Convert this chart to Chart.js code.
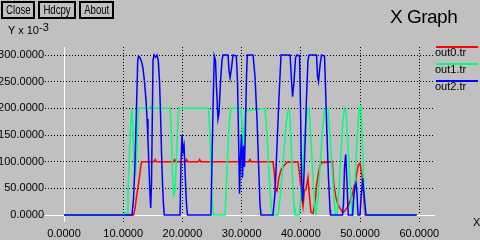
<!DOCTYPE html>
<html>
<head>
<meta charset="utf-8">
<script src="https://cdn.jsdelivr.net/npm/chart.js@4/dist/chart.umd.min.js"></script>
<style>
  html, body { margin: 0; padding: 0; }
  body {
    width: 480px; height: 240px; overflow: hidden; position: relative;
    background: #c0c0c0; color: #000;
    font-family: "Liberation Sans", Arial, sans-serif;
  }
  #graph { position: absolute; left: 0; top: 0; }
  .btn {
    position: absolute; top: 1px; height: 14px;
    border: 2px solid #000; text-align: center;
    font-size: 12px; line-height: 14px; white-space: nowrap;
  }
  .btn span { display: inline-block; transform: scaleX(0.8); }
  #title { position: absolute; left: 390px; top: 7px; font-size: 19px; line-height: 20px; letter-spacing: -0.5px; }
  #yunit { position: absolute; left: 8px; top: 24px; font-size: 11px; line-height: 12px; white-space: nowrap; }
  #yunit sup { font-size: 11px; vertical-align: baseline; position: relative; top: -3px; }
  #xunit { position: absolute; left: 473px; top: 216px; font-size: 11px; line-height: 12px; }
  .key-line { position: absolute; left: 436px; width: 42px; height: 2px; }
  .key-text { position: absolute; left: 435px; font-size: 11px; line-height: 13px; }
</style>
</head>
<body>
<canvas id="graph" width="480" height="240"></canvas>

<div class="btn" style="left:1px;width:30px"><span>Close</span></div>
<div class="btn" style="left:38px;width:34px"><span>Hdcpy</span></div>
<div class="btn" style="left:79px;width:31px"><span>About</span></div>
<div id="title">X Graph</div>
<div id="yunit">Y x 10<sup>-3</sup></div>
<div id="xunit">X</div>
<div id="key"></div>

<script>
// tick values
var xTicks = [0, 10, 20, 30, 40, 50, 60];
var yTicks = [0, 50, 100, 150, 200, 250, 300];

var seriesNames = ['out0.tr', 'out1.tr', 'out2.tr'];
var seriesColors = ['#ff0000', '#00ff7f', '#0000ff'];

// out0.tr (red)
var out0X = [0, 11.74, 11.99, 12.28, 12.55, 12.72, 13.0, 13.12, 15.2, 15.4, 15.6, 18.5, 18.7, 18.9, 20.5, 20.7, 20.9, 22.7, 22.9, 23.1, 29.5, 29.7, 29.9, 31.2, 31.4, 31.6, 35.3, 35.5, 35.7, 35.97, 36.3, 36.65, 37.2, 37.66, 39.5, 39.8, 40.1, 40.36, 40.6, 40.9, 41.2, 41.45, 41.7, 42.05, 42.4, 42.7, 43.06, 43.4, 45.3, 45.55, 45.9, 46.27, 47.11, 47.96, 48.58, 49.14, 49.7, 49.98, 50.27, 50.54, 50.83, 59.56];
var out0Y = [0, 0, 12, 37, 56, 69, 94, 100, 100, 104, 100, 100, 104, 100, 100, 104, 100, 100, 104, 100, 100, 104, 100, 100, 104, 100, 100, 80, 50, 45, 70, 85, 93, 99, 100, 75, 40, 16, 45, 50, 70, 35, 5, 3, 25, 60, 85, 98, 100, 60, 34, 19, 4, 16, 34, 60, 94, 97, 78, 47, 0, 0];

// out1.tr (green)
var out1X = [0, 10.13, 10.3, 10.64, 10.8, 10.98, 11.23, 11.48, 11.65, 11.9, 12.07, 12.24, 12.41, 12.58, 14.5, 14.7, 14.9, 17.9, 18.15, 18.3, 18.5, 18.74, 19.0, 19.25, 19.42, 24.4, 24.65, 24.82, 25.0, 25.25, 27.19, 27.44, 27.69, 27.95, 28.2, 29.9, 30.14, 30.3, 30.56, 33.94, 34.28, 34.6, 34.95, 35.2, 36.14, 36.47, 36.8, 37.15, 37.5, 37.83, 38.08, 38.33, 38.58, 38.84, 39.0, 39.7, 40.02, 40.36, 40.7, 41.03, 41.37, 41.71, 42.05, 42.39, 42.55, 42.89, 43.23, 43.57, 44.0, 44.58, 44.92, 45.26, 45.6, 45.85, 46.1, 46.44, 46.78, 47.12, 47.37, 47.62, 47.96, 48.3, 48.63, 48.8, 49.05, 49.3, 49.64, 49.9, 50.15, 50.4, 50.66, 50.9, 59.56];
var out1Y = [0, 0, 4, 4, 40, 97, 165, 199, 150, 90, 72, 110, 170, 200, 200, 204, 200, 200, 150, 80, 37, 45, 110, 180, 200, 200, 150, 90, 30, 0, 0, 60, 130, 180, 200, 200, 150, 130, 195, 200, 150, 80, 20, 0, 0, 30, 70, 120, 170, 196, 196, 140, 70, 15, 0, 0, 40, 100, 160, 198, 200, 140, 70, 10, 0, 30, 90, 150, 198, 200, 150, 90, 30, 0, 0, 50, 120, 180, 200, 195, 130, 60, 5, 0, 40, 100, 170, 200, 205, 130, 50, 0, 0];

// out2.tr (blue)
var out2X = [0, 11.48, 11.74, 11.99, 12.24, 12.45, 12.58, 12.83, 13.09, 13.34, 13.59, 13.85, 14.02, 14.18, 14.35, 14.52, 14.64, 14.78, 14.91, 15.03, 15.2, 15.45, 15.7, 15.92, 16.13, 16.3, 16.46, 16.63, 16.8, 16.94, 19.59, 19.76, 19.93, 20.1, 20.27, 20.52, 20.69, 20.85, 24.82, 24.99, 25.16, 25.38, 25.58, 25.75, 26.0, 26.17, 26.43, 26.68, 26.85, 27.7, 27.87, 28.04, 28.28, 28.54, 29.1, 29.3, 29.47, 29.64, 29.8, 29.97, 30.14, 30.31, 30.48, 30.65, 30.82, 30.95, 31.92, 32.25, 32.59, 32.84, 33.1, 33.27, 35.29, 35.63, 35.97, 36.3, 36.65, 38.18, 38.43, 38.6, 38.84, 39.1, 39.35, 39.77, 39.94, 40.1, 40.27, 40.44, 40.7, 40.95, 41.2, 41.37, 42.64, 42.81, 42.98, 43.23, 43.48, 43.99, 44.16, 44.41, 44.66, 44.92, 45.0, 47.03, 47.2, 47.37, 47.57, 47.79, 48.0, 48.72, 48.89, 49.14, 49.31, 49.48, 49.65, 49.98, 50.15, 50.44, 50.66, 51.0, 59.56];
var out2Y = [0, 0, 30, 100, 200, 290, 298, 295, 288, 275, 250, 215, 180, 140, 90, 40, 13, 60, 180, 290, 300, 296, 300, 290, 250, 190, 120, 60, 20, 0, 0, 100, 150, 120, 130, 60, 20, 0, 0, 100, 200, 298, 290, 240, 180, 190, 250, 290, 300, 300, 270, 257, 275, 300, 298, 250, 150, 40, 110, 150, 70, 130, 90, 170, 260, 300, 300, 260, 180, 100, 20, 0, 0, 40, 130, 220, 300, 300, 250, 222, 250, 295, 300, 298, 200, 80, 25, 50, 130, 220, 290, 300, 300, 260, 250, 280, 300, 298, 240, 150, 70, 10, 0, 0, 22, 90, 114, 60, 0, 0, 30, 55, 60, 40, 0, 0, 30, 69, 40, 0, 0];

function toPoints(xs, ys) {
  return xs.map(function (x, i) { return { x: x, y: ys[i] }; });
}

var allX = [out0X, out1X, out2X];
var allY = [out0Y, out1Y, out2Y];

// Build the key on the right
var key = document.getElementById('key');
for (var i = 0; i < seriesNames.length; i++) {
  var keyTop = 46 + i * 17;
  var line = document.createElement('div');
  line.className = 'key-line';
  line.style.top = keyTop + 'px';
  line.style.background = seriesColors[i];
  key.appendChild(line);
  var txt = document.createElement('div');
  txt.className = 'key-text';
  txt.style.top = keyTop + 'px';
  txt.textContent = seriesNames[i];
  key.appendChild(txt);
}

// white solid lines at x=0 and y=0
var zeroLines = {
  id: 'zeroLines',
  beforeDatasetsDraw: function (chart) {
    var ctx = chart.ctx, a = chart.chartArea;
    var px = Math.round(chart.scales.x.getPixelForValue(0)) + 0.5;
    var py = Math.round(chart.scales.y.getPixelForValue(0)) + 0.5;
    ctx.save();
    ctx.strokeStyle = '#ffffff';
    ctx.lineWidth = 1;
    ctx.beginPath();
    ctx.moveTo(a.left, py); ctx.lineTo(a.right, py);
    ctx.moveTo(px, a.top); ctx.lineTo(px, a.bottom);
    ctx.stroke();
    ctx.restore();
  }
};

Chart.defaults.font.family = '"Liberation Sans", Arial, sans-serif';

var datasets = seriesNames.map(function (name, i) {
  return {
    label: name,
    data: toPoints(allX[i], allY[i]),
    borderColor: seriesColors[i],
    borderWidth: 1.5,
    pointRadius: 0,
    tension: 0,
    fill: false,
    order: 3 - i
  };
});

var tickFont = { size: 11 };

new Chart(document.getElementById('graph'), {
  type: 'line',
  data: { datasets: datasets },
  options: {
    responsive: false,
    animation: false,
    layout: { padding: { top: 47, right: 45, left: 0, bottom: 0 } },
    plugins: { legend: { display: false }, tooltip: { enabled: false } },
    scales: {
      x: {
        type: 'linear',
        min: -3.21,
        max: 62.65,
        afterBuildTicks: function (s) { s.ticks = xTicks.map(function (v) { return { value: v }; }); },
        afterFit: function (s) { s.height = 18; },
        grid: { color: '#000', lineWidth: 1, drawTicks: false },
        border: { display: false, dash: [1, 2] },
        ticks: {
          color: '#000', font: tickFont, padding: 5, maxRotation: 0, autoSkip: false,
          callback: function (v) { return Number(v).toFixed(4); }
        }
      },
      y: {
        type: 'linear',
        min: -13.1,
        max: 315,
        afterBuildTicks: function (s) { s.ticks = yTicks.map(function (v) { return { value: v }; }); },
        afterFit: function (s) { s.width = 45; },
        grid: { color: '#000', lineWidth: 1, drawTicks: false },
        border: { display: false, dash: [1, 2] },
        ticks: {
          color: '#000', font: tickFont, padding: 1, autoSkip: false,
          callback: function (v) { return Number(v).toFixed(4); }
        }
      }
    }
  },
  plugins: [zeroLines]
});
</script>
</body>
</html>
